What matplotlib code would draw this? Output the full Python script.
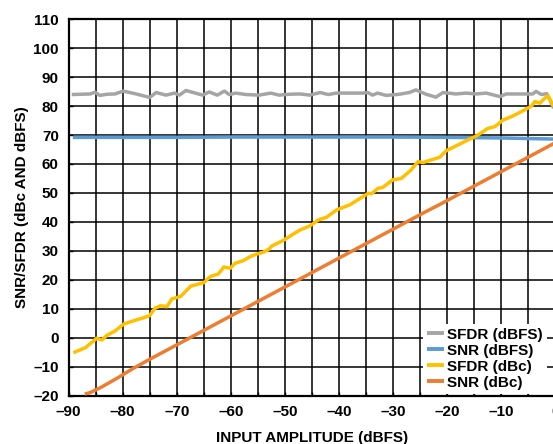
import matplotlib
matplotlib.use("Agg")
import matplotlib.pyplot as plt
from matplotlib.ticker import MultipleLocator, FuncFormatter

# ---- data ----
sfdr_dbfs_x = [-89.4, -86.0, -85.1, -84.2, -82.9, -81.4, -79.9, -77.5, -75.0, -73.8, -72.0,
               -70.4, -69.5, -68.3, -65.2, -64.0, -62.5, -61.2, -60.3, -59.1, -57.2, -54.8,
               -52.6, -51.1, -49.2, -47.2, -45.4, -43.5, -42.0, -40.5, -35.6, -34.7, -33.8,
               -32.9, -31.3, -28.9, -27.0, -25.8, -23.9, -22.1, -20.8, -18.4, -16.5, -14.7,
               -12.8, -10.3, -9.1, -4.2, -3.6, -2.6, -1.6, -1.0, -0.5, 0.0]
sfdr_dbfs_y = [84.0, 84.2, 84.8, 83.7, 84.1, 84.2, 85.2, 84.2, 83.0, 84.7, 83.8,
               84.5, 83.8, 85.4, 83.8, 84.9, 83.8, 85.2, 84.0, 84.5, 84.0, 83.8,
               84.5, 83.8, 84.1, 84.2, 83.8, 84.7, 84.0, 84.5, 84.5, 84.7, 83.8,
               84.5, 83.7, 84.1, 84.7, 85.6, 84.1, 83.1, 84.7, 84.2, 84.5, 84.2,
               84.5, 83.3, 84.2, 84.2, 85.1, 84.0, 84.3, 82.1, 79.8, 79.0]

snr_dbfs_x = [-89.2, -80, -70, -60, -50, -40, -30, -20, -15, -10, -5, 0]
snr_dbfs_y = [69.2, 69.2, 69.2, 69.3, 69.3, 69.3, 69.3, 69.2, 69.1, 69.0, 68.8, 68.6]

sfdr_dbc_x = [-89.1, -86.9, -85.4, -84.8, -83.8, -82.9, -81.4, -79.8, -78.0, -76.4, -75.0,
              -74.0, -73.0, -71.8, -70.9, -69.3, -68.4, -67.4, -65.0, -63.8, -62.3, -61.3,
              -60.1, -59.2, -57.7, -56.4, -55.2, -54.0, -53.0, -52.4, -50.3, -48.7, -47.2,
              -45.4, -43.8, -42.3, -40.5, -38.0, -35.6, -34.6, -34.0, -32.8, -31.9, -30.1,
              -28.5, -26.7, -25.4, -24.5, -23.0, -21.4, -20.2, -18.0, -16.2, -14.6, -12.5,
              -11.2, -9.7, -8.1, -6.3, -4.4, -3.8, -2.9, -2.0, -1.4, -0.5, 0.0]
sfdr_dbc_y = [-5.2, -3.5, -1.2, -0.2, -0.8, 0.8, 2.3, 4.7, 5.8, 6.7, 7.6,
              10.2, 11.0, 10.7, 13.4, 14.2, 15.9, 17.8, 19.0, 21.1, 22.0, 24.4,
              24.0, 25.7, 26.6, 28.0, 28.9, 29.5, 30.5, 31.7, 33.6, 35.5, 37.2,
              38.6, 40.7, 41.6, 44.1, 45.9, 48.7, 49.9, 49.7, 51.6, 51.9, 54.5,
              55.0, 57.9, 60.8, 60.5, 61.4, 62.3, 64.6, 66.6, 68.3, 69.7, 72.3,
              72.9, 75.2, 76.4, 78.1, 80.1, 81.6, 81.0, 82.7, 83.6, 80.4, 79.5]

snr_dbc_x = [-87, -86, -84, -81, -78, -75, -72, -69, -66, -63, -60, -57, -54, -51, -48,
             -45, -42, -39, -36, -33, -30, -27, -24, -21, -18, -15, -12, -9, -6, -3, 0]
snr_dbc_y = [-19.5, -19.0, -17.2, -14.0, -10.6, -7.5, -4.5, -1.5, 1.5, 4.5, 7.5, 10.5,
             13.5, 16.5, 19.5, 22.5, 25.5, 28.5, 31.5, 34.5, 37.5, 40.5, 43.5, 46.4,
             49.4, 52.4, 55.4, 58.4, 61.4, 64.4, 67.4]

series_labels = ["SFDR (dBFS)", "SNR (dBFS)", "SFDR (dBc)", "SNR (dBc)"]
series_colors = ["#A5A5A5", "#5B9BD5", "#FFC000", "#ED7D31"]

x_label = "INPUT AMPLITUDE (dBFS)"
y_label = "SNR/SFDR (dBc AND dBFS)"

# ---- figure ----
plt.rcParams['font.family'] = ['Liberation Sans', 'DejaVu Sans']
plt.rcParams['font.weight'] = 'bold'
plt.rcParams['font.size'] = 11

fig = plt.figure(figsize=(5.53, 4.44), dpi=100)
ax = fig.add_axes([68.5 / 553, 1 - 395.5 / 444, 487 / 553, 376.2 / 444])

lw = 2.5
xs = [sfdr_dbfs_x, snr_dbfs_x, sfdr_dbc_x, snr_dbc_x]
ys = [sfdr_dbfs_y, snr_dbfs_y, sfdr_dbc_y, snr_dbc_y]
for x, y, lab, c in zip(xs, ys, series_labels, series_colors):
    ax.plot(x, y, color=c, lw=lw, label=lab, solid_capstyle='butt',
            solid_joinstyle='round', zorder=3)

ax.set_xlim(-90, 0)
ax.set_ylim(-20, 110)
ax.xaxis.set_major_locator(MultipleLocator(10))
ax.xaxis.set_minor_locator(MultipleLocator(5))
ax.yaxis.set_major_locator(MultipleLocator(10))

fmt = FuncFormatter(lambda v, p: ("\u2013%d" % abs(round(v))) if v < -0.5 else "%d" % round(v))
ax.xaxis.set_major_formatter(fmt)
ax.yaxis.set_major_formatter(fmt)

ax.grid(True, which='both', axis='x', color='black', lw=1.1)
ax.grid(True, which='major', axis='y', color='black', lw=1.1)
ax.set_axisbelow(True)
ax.tick_params(which='both', direction='in', length=3, width=1.0, color='black', pad=7)
for s in ax.spines.values():
    s.set_linewidth(1.6)
    s.set_color('black')

ax.set_xlabel(x_label, fontweight='bold', fontsize=11)
ax.set_ylabel(y_label, fontweight='bold', fontsize=11)
ax.xaxis.set_label_coords(0.5, -0.095)
ax.xaxis.label.set_va('top')
ax.yaxis.set_label_coords(-0.081, 0.5)

leg = ax.legend(loc='lower left', bbox_to_anchor=(0.728, 0.005), borderaxespad=0,
                frameon=True, facecolor='white', edgecolor='none', framealpha=1,
                fancybox=False, handlelength=1.1, handletextpad=0.25,
                labelspacing=0.13, borderpad=0.25, prop={'weight': 'bold', 'size': 11})
for h in leg.get_lines():
    h.set_linewidth(2.8)
leg.set_zorder(5)

fig.savefig("out.png", dpi=100)
